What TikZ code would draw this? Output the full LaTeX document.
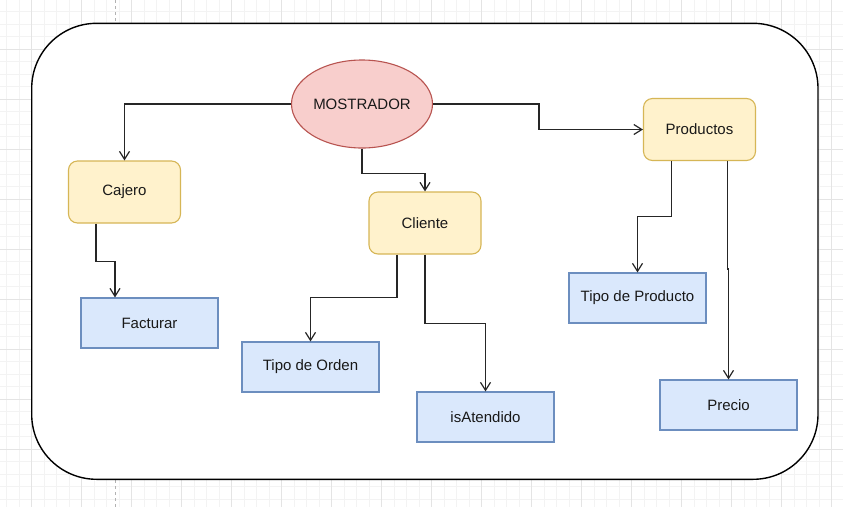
\documentclass[tikz,border=0pt]{standalone}
\usepackage{fontspec}
\setmainfont{Liberation Sans}
\usetikzlibrary{arrows.meta,shapes.geometric}
\definecolor{redfill}{HTML}{F8CECC}
\definecolor{redline}{HTML}{B85450}
\definecolor{yelfill}{HTML}{FFF2CC}
\definecolor{yelline}{HTML}{D6B656}
\definecolor{bluefill}{HTML}{DAE8FC}
\definecolor{blueline}{HTML}{6C8EBF}
\definecolor{gridminor}{HTML}{F3F3F3}
\definecolor{gridmajor}{HTML}{E4E4E4}
\begin{document}
\begin{tikzpicture}[x=1pt,y=-1pt,
  lbl/.style={font=\fontsize{15}{18}\selectfont, text=black!90},
  ybox/.style={lbl, draw=yelline, fill=yelfill, rounded corners=9pt, line width=1.1pt,
    minimum width=112pt, minimum height=62pt, inner sep=0pt},
  bbox/.style={lbl, draw=blueline, fill=bluefill, line width=1.1pt,
    minimum width=137pt, minimum height=50pt, inner sep=0pt},
  ebox/.style={lbl, ellipse, draw=redline, fill=redfill, line width=1.1pt,
    minimum width=141pt, minimum height=88pt, inner sep=0pt},
  conn/.style={draw=black!85, line width=1.2pt,
    -{Straight Barb[length=8pt,width=10pt,line width=1.2pt]}},
  frame/.style={draw=black, fill=white, line width=1.4pt, rounded corners=65pt}
]
\useasboundingbox (0,0) rectangle (843,507);
\fill[white] (0,0) rectangle (843,507);
% grid
\foreach \i in {0,...,67} {\draw[gridminor, line width=0.8pt] ({6.7+12.5*\i},0) -- ({6.7+12.5*\i},507);}
\foreach \i in {0,...,40} {\draw[gridminor, line width=0.8pt] (0,{11.5+12.5*\i}) -- (843,{11.5+12.5*\i});}
\foreach \i in {0,...,16} {\draw[gridmajor, line width=0.8pt] ({31.7+50*\i},0) -- ({31.7+50*\i},507);}
\foreach \i in {0,...,9} {\draw[gridmajor, line width=0.8pt] (0,{-1+50*\i}) -- (843,{-1+50*\i});}
\draw[black!30, dashed, line width=0.8pt] (115,0) -- (115,507);
% frame
\path[frame] (31.7,23.3) rectangle (818,479.3);
% nodes
\node[ebox] (most) at (362,104) {MOSTRADOR};
\node[ybox] (caj) at (124.5,192) {Cajero};
\node[ybox] (cli) at (425,223) {Cliente};
\node[ybox] (prod) at (699.5,129.5) {Productos};
\node[bbox] (fact) at (149.5,323) {Facturar};
\node[bbox] (tord) at (310.5,367) {Tipo de Orden};
\node[bbox] (isat) at (485.5,417) {isAtendido};
\node[bbox] (tprod) at (637.5,298) {Tipo de Producto};
\node[bbox] (prec) at (728.5,405) {Precio};
% connectors
\draw[conn] (most.west) -| (caj.north);
\draw[conn] (most.east) -- ++(106,0) |- (prod.west);
\draw[conn] (most.south) -- ++(0,25) -| (cli.north);
\draw[conn] ([xshift=-28.5pt]caj.south) -- ++(0,37.7) -| ([xshift=-34.5pt]fact.north);
\draw[conn] ([xshift=-28pt]cli.south) -- ++(0,43) -| (tord.north);
\draw[conn] (cli.south) -- ++(0,68.7) -| (isat.north);
\draw[conn] ([xshift=-28pt]prod.south) -- ++(0,55.7) -| (tprod.north);
\draw[conn] ([xshift=28pt]prod.south) -- ++(0,108) -| (prec.north);
\end{tikzpicture}
\end{document}
